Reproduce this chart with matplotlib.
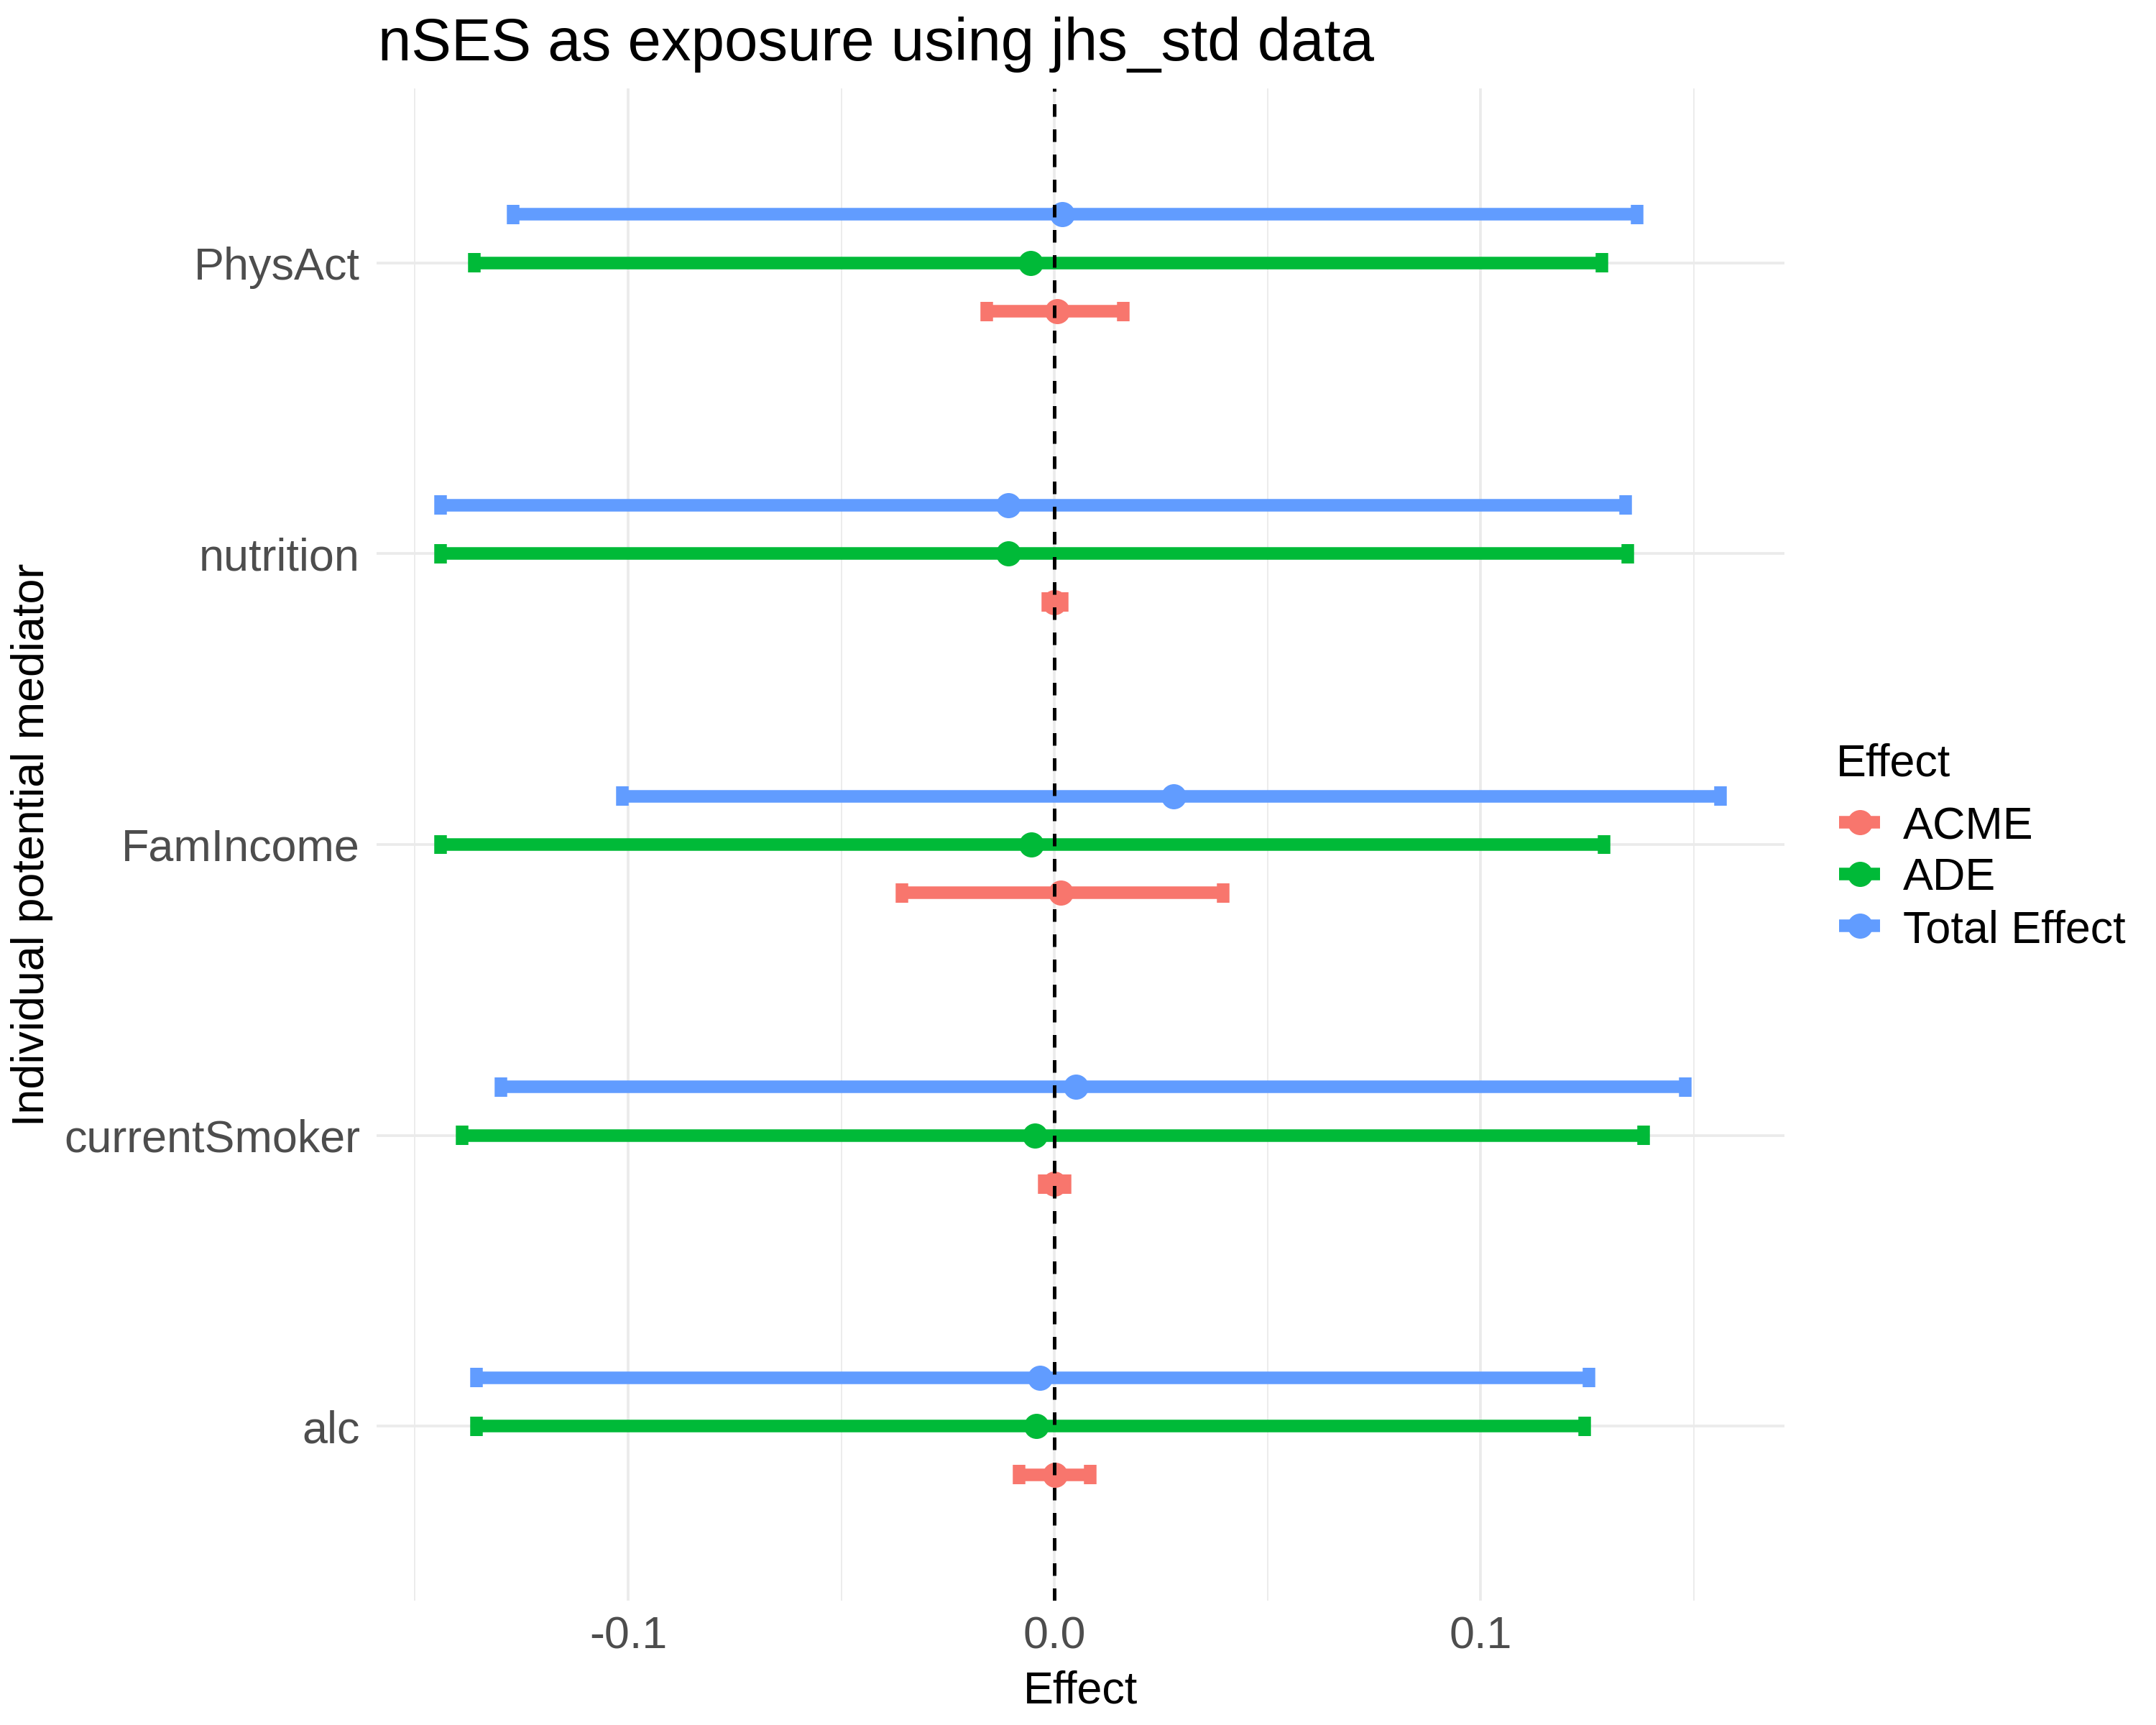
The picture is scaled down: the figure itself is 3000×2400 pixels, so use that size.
import numpy as np
import matplotlib.pyplot as plt
from matplotlib.lines import Line2D

plt.rcParams['font.family'] = ['Liberation Sans', 'DejaVu Sans']

# mediators, bottom to top
mediators = ["alc", "currentSmoker", "FamIncome", "nutrition", "PhysAct"]
effects = ["ACME", "ADE", "Total Effect"]
colors = ["#F8766D", "#00BA38", "#619CFF"]

acme_est = [0.0002, 0.0000, 0.0015, 0.0000, 0.0006]
acme_lo = [-0.0082, -0.0024, -0.0357, -0.0015, -0.0158]
acme_hi = [0.0085, 0.0025, 0.0396, 0.0018, 0.0161]

ade_est = [-0.0043, -0.0046, -0.0054, -0.0108, -0.0055]
ade_lo = [-0.1355, -0.1390, -0.1440, -0.1440, -0.1360]
ade_hi = [0.1245, 0.1382, 0.1290, 0.1346, 0.1285]

tot_est = [-0.0033, 0.0051, 0.0280, -0.0108, 0.0018]
tot_lo = [-0.1355, -0.1298, -0.1014, -0.1440, -0.1270]
tot_hi = [0.1254, 0.1481, 0.1563, 0.1341, 0.1367]

est = [acme_est, ade_est, tot_est]
lo = [acme_lo, ade_lo, tot_lo]
hi = [acme_hi, ade_hi, tot_hi]

W, H = 3000, 2400
fig = plt.figure(figsize=(10, 8), dpi=300)


def fx(px):
    return px / W


def fy(py):
    return 1 - py / H


ax = fig.add_axes([fx(524), fy(2227), fx(2483) - fx(524), fy(123) - fy(2227)])

FS = 15.1
LW = 4.2
dodge = 0.5
cap = 0.2 / 3

ypos = np.arange(1, len(mediators) + 1)
for i in range(len(effects)):
    off = (i - 1) * dodge / 3
    y = ypos + off
    ax.hlines(y, lo[i], hi[i], color=colors[i], lw=LW, capstyle='butt', zorder=3)
    ax.vlines(lo[i], y - cap / 2, y + cap / 2, color=colors[i], lw=LW, capstyle='butt', zorder=3)
    ax.vlines(hi[i], y - cap / 2, y + cap / 2, color=colors[i], lw=LW, capstyle='butt', zorder=3)
    ax.plot(est[i], y, 'o', color=colors[i], ms=8.4, mec='none', zorder=4)

ax.axvline(0, color='black', lw=1.2, ls=(0, (3.5, 3.5)), zorder=5)

allv = np.concatenate([np.ravel(lo), np.ravel(hi)])
rng = allv.max() - allv.min()
ax.set_xlim(allv.min() - 0.05 * rng, allv.max() + 0.05 * rng)
ax.set_ylim(0.4, 5.6)

ax.set_xticks([-0.1, 0.0, 0.1])
ax.set_xticklabels(["-0.1", "0.0", "0.1"])
ax.set_xticks([-0.15, -0.05, 0.05, 0.15], minor=True)
ax.set_yticks(ypos)
ax.set_yticklabels(mediators)
ax.tick_params(axis='both', which='both', length=0, labelsize=FS, labelcolor='#4D4D4D')
ax.tick_params(axis='y', pad=5.5)
ax.tick_params(axis='x', pad=5)

ax.grid(True, which='major', color='#EBEBEB', lw=0.9, zorder=0)
ax.grid(True, which='minor', axis='x', color='#EBEBEB', lw=0.45, zorder=0)
ax.set_axisbelow(True)
for s in ax.spines.values():
    s.set_visible(False)

fig.text(fx(526), fy(84), "nSES as exposure using jhs_std data", fontsize=20, va='baseline', ha='left')
fig.text((fx(524) + fx(2483)) / 2, fy(2369), "Effect", fontsize=FS, va='baseline', ha='center')
fig.text(fx(74), (fy(123) + fy(2227)) / 2, "Individual potential mediator", fontsize=FS,
         rotation=90, ha='right', va='center')

# legend
fig.text(fx(2555), fy(1079), "Effect", fontsize=FS, va='baseline', ha='left')
key_y = [1144, 1216, 1288]
lab_y = [1167, 1238, 1311]
for i in range(len(effects)):
    fig.add_artist(Line2D([fx(2559), fx(2616)], [fy(key_y[i])] * 2, transform=fig.transFigure,
                          color=colors[i], lw=LW, solid_capstyle='butt'))
    fig.add_artist(Line2D([fx(2587.5)], [fy(key_y[i])], transform=fig.transFigure,
                          marker='o', ms=8.4, mec='none', color=colors[i]))
    fig.text(fx(2648), fy(lab_y[i]), effects[i], fontsize=FS, va='baseline', ha='left')

fig.savefig("out.png", dpi=300, facecolor='white')
